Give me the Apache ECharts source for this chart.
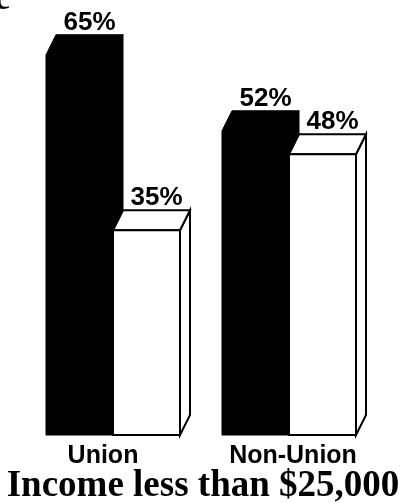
<!DOCTYPE html>
<html>
<head>
<meta charset="utf-8">
<script src="https://cdn.jsdelivr.net/npm/echarts@6/dist/echarts.min.js"></script>
<style>
  html, body { margin: 0; padding: 0; background: #fff; }
  #chart { width: 406px; height: 503px; }
</style>
</head>
<body>
<div id="chart"></div>
<script>
// data
const categories = ['Union', 'Non-Union'];
const darkValues = [65, 52];
const lightValues = [35, 48];
const chartTitle = 'Income less than $25,000';

// 3D look
const BAR_W = 67;
const DX = 10;
const DY = -20;

function makeRender(side, fill) {
  return function (params, api) {
    const cat = api.value(0);
    const val = api.value(1);
    const base = api.coord([cat, 0]);
    const top = api.coord([cat, val]);
    const x0 = side < 0 ? base[0] - BAR_W : base[0];
    const x1 = x0 + BAR_W;
    const y0 = top[1];
    const y1 = base[1];
    const lw = fill === '#000' ? 1 : 2;
    const st = { fill: fill, stroke: '#000', lineWidth: lw, lineJoin: 'miter' };
    return {
      type: 'group',
      children: [
        {
          type: 'polygon',
          shape: { points: [[x1, y0], [x1 + DX, y0 + DY], [x1 + DX, y1 + DY], [x1, y1]] },
          style: st
        },
        {
          type: 'polygon',
          shape: { points: [[x0, y0], [x0 + DX, y0 + DY], [x1 + DX, y0 + DY], [x1, y0]] },
          style: st
        },
        {
          type: 'rect',
          shape: { x: x0, y: y0, width: BAR_W, height: y1 - y0 },
          style: st
        },
        {
          type: 'text',
          style: {
            text: val + '%',
            x: (x0 + x1) / 2 + DX / 2 + 5,
            y: y0 + DY + 1,
            align: 'center',
            verticalAlign: 'bottom',
            fill: '#000',
            fontSize: 26,
            fontWeight: 'bold',
            fontFamily: '"Liberation Sans", Arial, sans-serif'
          }
        }
      ]
    };
  };
}

const chart = echarts.init(document.getElementById('chart'));

chart.setOption({
  animation: false,
  backgroundColor: '#fff',
  title: {
    text: chartTitle,
    left: 'center',
    top: 463,
    textStyle: {
      fontFamily: '"Liberation Serif", "Times New Roman", serif',
      fontWeight: 'bold',
      fontSize: 37,
      color: '#000'
    }
  },
  graphic: [
    {
      // cut-off letter from a heading above the picture
      type: 'text',
      left: -6,
      top: -19,
      style: {
        text: 'e',
        fill: '#000',
        fontSize: 37,
        fontWeight: 'bold',
        fontFamily: '"Liberation Serif", serif'
      }
    }
  ],
  grid: {
    left: 25,
    width: 352,
    top: 25.5,
    bottom: 68
  },
  xAxis: {
    type: 'category',
    data: categories,
    axisLine: { show: false },
    axisTick: { show: false },
    axisLabel: {
      interval: 0,
      margin: 9,
      fontFamily: '"Liberation Sans", Arial, sans-serif',
      fontWeight: 'bold',
      fontSize: 25,
      color: '#000',
      formatter: function (v, i) {
        return i === 0 ? '{u|' + v + '}' : '{n|' + v + '}';
      },
      rich: {
        u: { padding: [0, 20, 0, 0], fontWeight: 'bold', fontSize: 25, fontFamily: '"Liberation Sans", Arial, sans-serif' },
        n: { padding: [0, 0, 0, 8], fontWeight: 'bold', fontSize: 25, fontFamily: '"Liberation Sans", Arial, sans-serif' }
      }
    }
  },
  yAxis: {
    type: 'value',
    min: 0,
    max: 70,
    show: false
  },
  series: [
    {
      name: 'dark',
      type: 'custom',
      renderItem: makeRender(-1, '#000'),
      data: darkValues.map((v, i) => [i, v])
    },
    {
      name: 'light',
      type: 'custom',
      renderItem: makeRender(1, '#fff'),
      data: lightValues.map((v, i) => [i, v])
    }
  ]
});
</script>
</body>
</html>
